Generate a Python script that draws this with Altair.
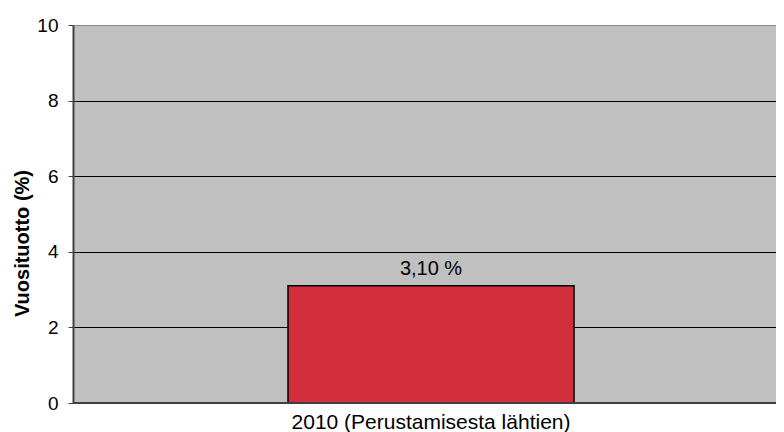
import altair as alt
import pandas as pd

categories = ["2010 (Perustamisesta lähtien)"]
values = [3.10]
labels = ["3,10 %"]
y_ticks = [0, 2, 4, 6, 8, 10]

df = pd.DataFrame({"cat": categories, "val": values, "lab": labels})

FONT = "Liberation Sans"
base = alt.Chart(df)

bars = base.mark_bar(color="#D12F3B", stroke="black", strokeWidth=1.5).encode(
    x=alt.X("cat:N", title=None,
            scale=alt.Scale(paddingInner=0.5, paddingOuter=0.3645, align=0.5156),
            axis=alt.Axis(labelAngle=0, ticks=False, domain=False, labelFontSize=21,
                          labelColor="black", labelFont=FONT, labelPadding=8,
                          labelLimit=0)),
    y=alt.Y("val:Q", title="Vuosituotto (%)",
            scale=alt.Scale(domain=[0, 10], nice=False),
            axis=alt.Axis(values=y_ticks, grid=True,
                          gridColor={"condition": {"test": "datum.value == 10", "value": "#888888"}, "value": "black"},
                          gridWidth=1, gridOpacity=1,
                          domainColor="#404040", domainWidth=2,
                          tickColor="#404040", tickSize=5,
                          labelFontSize=19, labelColor="black", labelFont=FONT,
                          labelPadding=10,
                          titleFontSize=20, titleFont=FONT, titleFontWeight="bold",
                          titleColor="black", titleX=-51, titleY=218,
                          titleAngle=270, titleBaseline="middle", titleAlign="center")),
)

text = base.mark_text(dy=-17, fontSize=20, font=FONT, color="black").encode(
    x="cat:N", y="val:Q", text="lab:N"
)

bottom = base.mark_rule(color="#404040", strokeWidth=2).encode(
    y=alt.datum(0)
)

chart = (bars + text + bottom).properties(
    width=703, height=378,
    autosize=alt.AutoSizeParams(type="none"),
    padding={"left": 65, "top": 17, "right": 0, "bottom": 29},
).configure_view(fill="#C0C0C0", stroke=None)

chart.save("out.html", embed_options={"renderer": "svg", "actions": False})
